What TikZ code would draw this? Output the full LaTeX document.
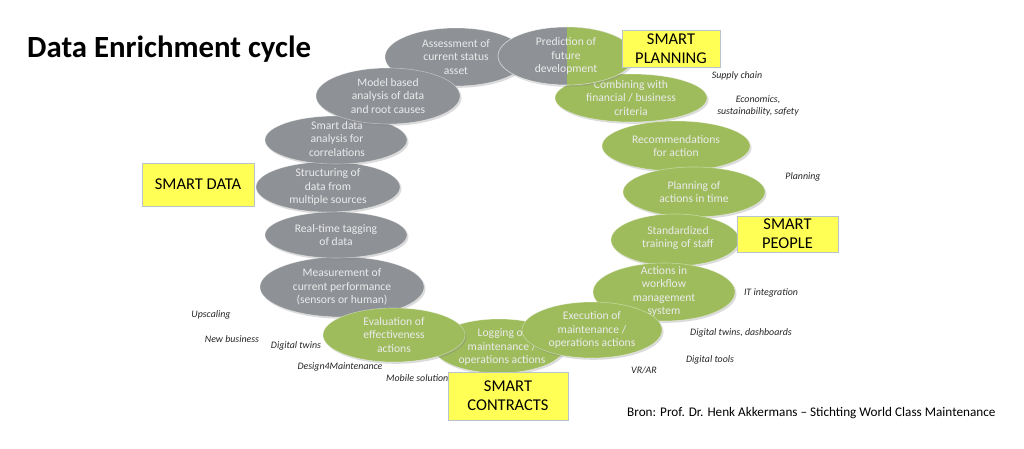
\documentclass[tikz,border=0pt]{standalone}
\usepackage{fontspec}
\setmainfont{Carlito}
\usetikzlibrary{shapes.geometric,shadows}
\definecolor{cgrey}{HTML}{8E9196}
\definecolor{cgreen}{HTML}{9EBC5C}
\definecolor{cyel}{HTML}{FFFF55}
\definecolor{cbord}{HTML}{B8C4CC}
\begin{document}
\begin{tikzpicture}[x=1pt,y=-1pt,
  ell/.style={ellipse, inner sep=0pt, draw=white, draw opacity=0.4, line width=0.6pt,
    drop shadow={opacity=0.28, shadow xshift=1.5pt, shadow yshift=-1.8pt}},
  gell/.style={ell, fill=cgrey},
  green ell/.style={ell, fill=cgreen},
  etxt/.style={align=center, text=white!92!black, inner sep=0pt, font=\fontsize{11.6}{13.5}\selectfont},
  sbox/.style={draw=cbord, line width=0.6pt, fill=cyel, align=center, inner sep=0pt,
    font=\fontsize{16.5}{19}\selectfont},
  note/.style={font=\fontsize{9.9}{12}\selectfont\itshape, text=black!85, inner sep=0pt, align=center}
]
\useasboundingbox (0,0) rectangle (1024,449);
\fill[white] (0,0) rectangle (1024,449);

\node[anchor=base west, inner sep=0pt, font=\fontsize{30.8}{36}\selectfont\bfseries] (title) at (27,58) {Data Enrichment cycle};

% Assessment
\node[gell, minimum width=142pt, minimum height=58pt] (assess) at (456,57) {};
\node[etxt] (assesst) at (assess) {Assessment of\\current status\\asset};
% Combining
\node[green ell, minimum width=152pt, minimum height=48pt] (comb) at (631,98) {};
\node[etxt] (combt) at (comb) {Combining with\\financial / business\\criteria};
% Prediction (half grey, half green)
\node[gell, minimum width=136pt, minimum height=58pt] (pred) at (566,56) {};
\begin{scope}
  \clip (567,20) rectangle (640,95);
  \fill[cgreen] (pred.center) ellipse [x radius=68pt, y radius=29pt];
\end{scope}
\draw[white, draw opacity=0.4, line width=0.6pt] (pred.center) ellipse [x radius=68pt, y radius=29pt];
\node[etxt] (predt) at (pred) {Prediction of\\future\\development};
% Recommendations
\node[green ell, minimum width=148pt, minimum height=50pt] (recom) at (676,146) {};
\node[etxt] (recomt) at (recom) {Recommendations\\for action};
% Planning
\node[green ell, minimum width=142pt, minimum height=50pt] (plan) at (694,192) {};
\node[etxt] (plant) at (plan) {Planning of\\actions in time};
% Standardized
\node[green ell, minimum width=128pt, minimum height=52pt] (stand) at (675,240) {};
\node[etxt] (standt) at (678,238) {Standardized\\training of staff};
% Actions in workflow
\node[green ell, minimum width=142pt, minimum height=58pt] (act) at (664,292) {};
\node[etxt] (actt) at (664,291.5) {Actions in\\workflow\\management\\system};
% Logging
\node[green ell, minimum width=132pt, minimum height=54pt] (log) at (499,346) {};
\node[etxt] (logt) at (502,347) {Logging of\\maintenance /\\operations actions};
% Execution
\node[green ell, minimum width=140pt, minimum height=56pt] (exec) at (592,330) {};
\node[etxt] (exect) at (exec) {Execution of\\maintenance /\\operations actions};
% Measurement
\node[gell, minimum width=164pt, minimum height=60pt] (meas) at (342,287) {};
\node[etxt] (meast) at (meas) {Measurement of\\current performance\\(sensors or human)};
% Evaluation
\node[green ell, minimum width=142pt, minimum height=54pt] (eval) at (394,335) {};
\node[etxt] (evalt) at (eval) {Evaluation of\\effectiveness\\actions};
% Real-time
\node[gell, minimum width=142pt, minimum height=46pt] (real) at (336,235) {};
\node[etxt] (realt) at (real) {Real-time tagging\\of data};
% Structuring
\node[gell, minimum width=144pt, minimum height=50pt] (struct) at (328,187) {};
\node[etxt] (structt) at (struct) {Structuring of\\data from\\multiple sources};
% Smart data analysis
\node[gell, minimum width=142pt, minimum height=48pt] (sda) at (336,140) {};
\node[etxt] (sdat) at (337,139) {Smart data\\analysis for\\correlations};
% Model based
\node[gell, minimum width=144pt, minimum height=56pt] (model) at (388,96) {};
\node[etxt] (modelt) at (model) {Model based\\analysis of data\\and root causes};

% SMART boxes
\node[sbox, minimum width=98pt, minimum height=37pt] (bplan) at (671,48.5) {SMART\\PLANNING};
\node[sbox, minimum width=101pt, minimum height=36pt] (bpeople) at (787.5,234) {SMART\\PEOPLE};
\node[sbox, minimum width=112pt, minimum height=43pt] (bdata) at (198,184.5) {SMART DATA};
\node[sbox, minimum width=120pt, minimum height=48pt] (bcontr) at (508,396) {SMART\\CONTRACTS};

% italic notes
\node[note] (n1) at (737,76) {Supply chain};
\node[note] (n2) at (758,106) {Economics,\\sustainability, safety};
\node[note] (n3) at (803,177) {Planning};
\node[note] (n4) at (771,293) {IT integration};
\node[note] (n5) at (741,333) {Digital twins, dashboards};
\node[note] (n6) at (710,360) {Digital tools};
\node[note] (n7) at (644,370) {VR/AR};
\node[note] (n8) at (211,315) {Upscaling};
\node[note] (n9) at (232,339) {New business};
\node[note] (n10) at (296,346) {Digital twins};
\node[note] (n11) at (340,367) {Design4Maintenance};
\node[note, anchor=west] (n12) at (386,378) {Mobile solution};

\node[anchor=west, inner sep=0pt, font=\fontsize{13.2}{15}\selectfont] (src) at (627,413) {Bron: Prof. Dr. Henk Akkermans – Stichting World Class Maintenance};
\end{tikzpicture}
\end{document}
